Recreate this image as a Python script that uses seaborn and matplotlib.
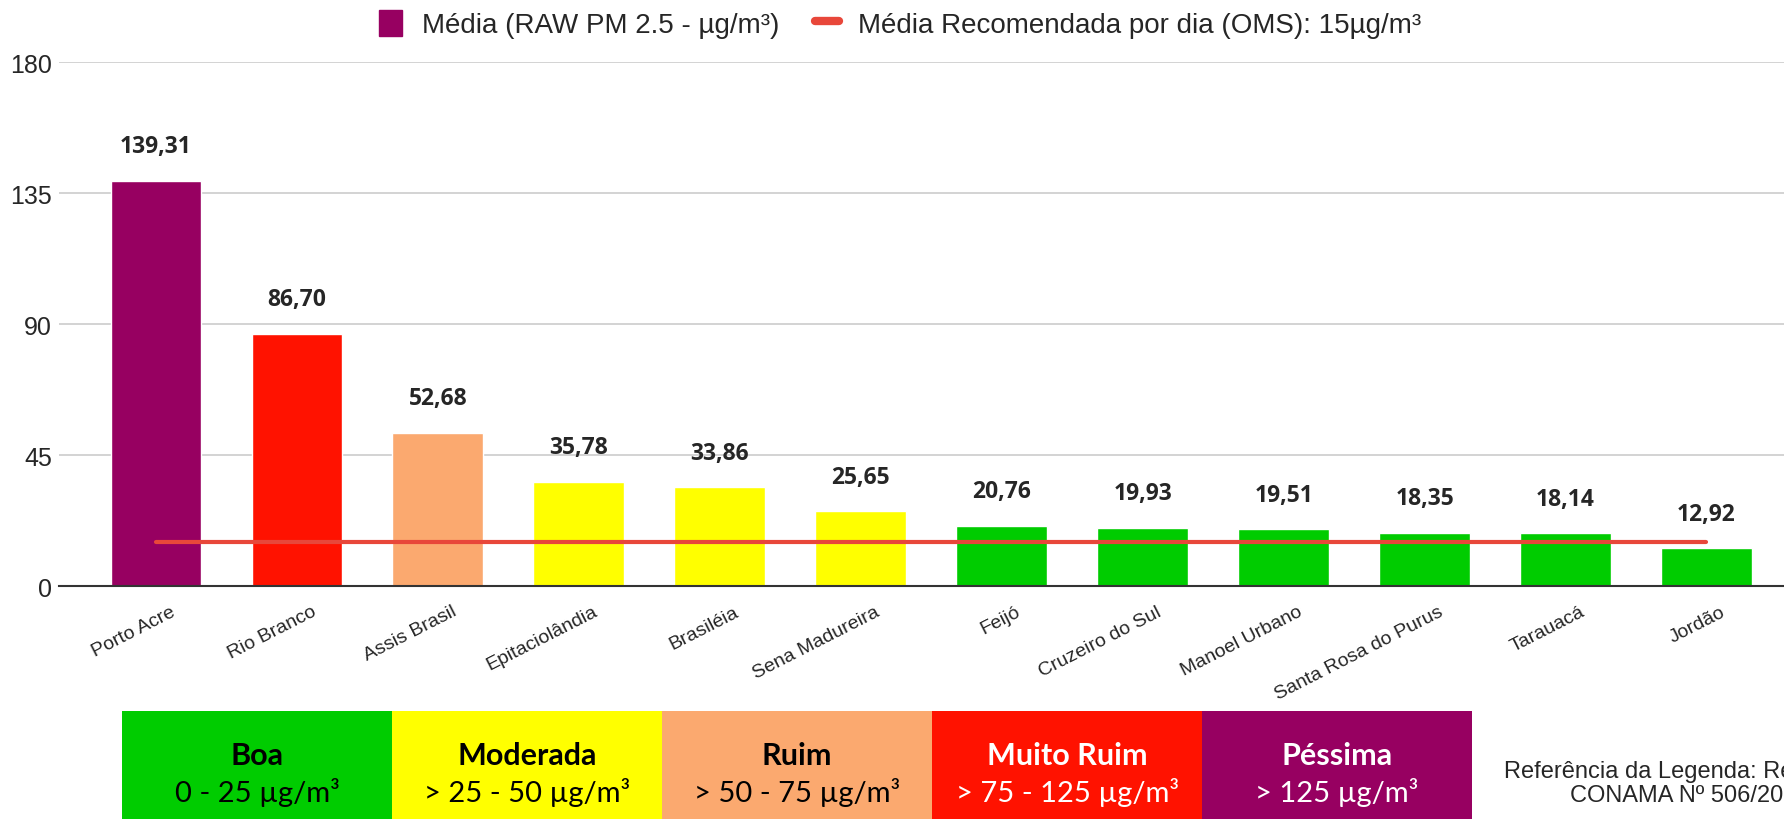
import pandas as pd
import matplotlib.pyplot as plt
import matplotlib.transforms as mtransforms
import seaborn as sns
from matplotlib.patches import Patch, Rectangle
from matplotlib.lines import Line2D

# Data
cities = ["Porto Acre", "Rio Branco", "Assis Brasil", "Epitaciolândia",
          "Brasiléia", "Sena Madureira", "Feijó", "Cruzeiro do Sul",
          "Manoel Urbano", "Santa Rosa do Purus", "Tarauacá", "Jordão"]
pm25 = [139.31, 86.70, 52.68, 35.78, 33.86, 25.65,
        20.76, 19.93, 19.51, 18.35, 18.14, 12.92]
oms_limit = 15

# Air quality bands (CONAMA)
band_names = ["Boa", "Moderada", "Ruim", "Muito Ruim", "Péssima"]
band_ranges = ["0 - 25 µg/m³", "> 25 - 50 µg/m³", "> 50 - 75 µg/m³",
               "> 75 - 125 µg/m³", "> 125 µg/m³"]
band_edges = [0, 25, 50, 75, 125, 1000]
band_colors = ["#00CC00", "#FFFF00", "#FBA96F", "#FF1200", "#970061"]
band_text = ["black", "black", "black", "white", "white"]

df = pd.DataFrame({"cidade": cities, "media": pm25})
df["faixa"] = pd.cut(df["media"], bins=band_edges, labels=band_names)
color_map = dict(zip(band_names, band_colors))
palette = [color_map[f] for f in df["faixa"]]

sns.set_style("white")
plt.rcParams["font.family"] = ["Liberation Sans", "DejaVu Sans"]

fig = plt.figure(figsize=(17.84, 8.2), dpi=100)
ax = fig.add_axes([0.0331, 0.2841, 0.9669, 0.639])

sns.barplot(
    data=df,
    x="cidade",
    y="media",
    hue="cidade",
    palette=palette,
    legend=False,
    width=0.645,
    saturation=1,
    ax=ax
)

# OMS reference line
ax.plot(range(len(cities)), [oms_limit] * len(cities),
        color="#E8473A", linewidth=3, zorder=3)

# value labels
for i, v in enumerate(pm25):
    ax.annotate(
        f"{v:.2f}".replace(".", ","),
        (i, v),
        xytext=(0, 25),
        textcoords="offset points",
        ha="center",
        va="center",
        fontsize=16.5,
        fontweight="bold",
        family="Open Sans"
    )

ax.set_ylim(0, 180)
ax.set_xlim(-0.688, 11.55)
ax.set_yticks([0, 45, 90, 135, 180])
ax.yaxis.grid(True, color="#cccccc", linewidth=1.2)
ax.set_axisbelow(True)
for s in ["top", "right", "left"]:
    ax.spines[s].set_visible(False)
ax.spines["bottom"].set_color("#333333")
ax.spines["bottom"].set_linewidth(1.5)
ax.spines["bottom"].set_zorder(4)
ax.tick_params(axis="y", length=0, pad=5, labelsize=18)
ax.tick_params(axis="x", length=0, pad=12, labelsize=14)
ax.set_xlabel("")
ax.set_ylabel("")
plt.setp(ax.get_xticklabels(), rotation=27, ha="right",
         rotation_mode="anchor")
# labels end a little right of the bar centre, like the original
shift = mtransforms.ScaledTranslation(14 / 100, 0, fig.dpi_scale_trans)
for lbl in ax.get_xticklabels():
    lbl.set_transform(lbl.get_transform() + shift)

# top legend
handles = [
    Patch(facecolor="#970061", edgecolor="#970061"),
    Line2D([0], [0], color="#E8473A", linewidth=6),
]
fig.legend(
    handles,
    ["Média (RAW PM 2.5 - µg/m³)",
     "Média Recomendada por dia (OMS): 15µg/m³"],
    loc="center",
    bbox_to_anchor=(0.5045, 0.9695),
    ncol=2,
    frameon=False,
    fontsize=20,
    handlelength=0.85,
    handleheight=1.05,
    handletextpad=0.7,
    columnspacing=1.3
)

# bottom colour scale
lax = fig.add_axes([122 / 1784, 0, 1350 / 1784, 90 / 820])
lax.set_xlim(0, len(band_names))
lax.set_ylim(0, 1)
lax.axis("off")
for i, name in enumerate(band_names):
    lax.add_patch(Rectangle((i, 0), 1, 1.2, facecolor=band_colors[i],
                            edgecolor="none", clip_on=False))
    lax.text(i + 0.5, 0.711, name, ha="center", va="center",
             fontsize=22, fontweight="bold", family="Lato",
             color=band_text[i])
    lax.text(i + 0.5, 0.30, band_ranges[i], ha="center", va="center",
             fontsize=21, family="Lato", color=band_text[i])

fig.text(0.947, 0.044,
         "Referência da Legenda: Resolução\nCONAMA Nº 506/2024",
         ha="center", va="center", multialignment="center",
         fontsize=17, linespacing=1.1)

fig.savefig("out.png", dpi=100)
plt.close()
